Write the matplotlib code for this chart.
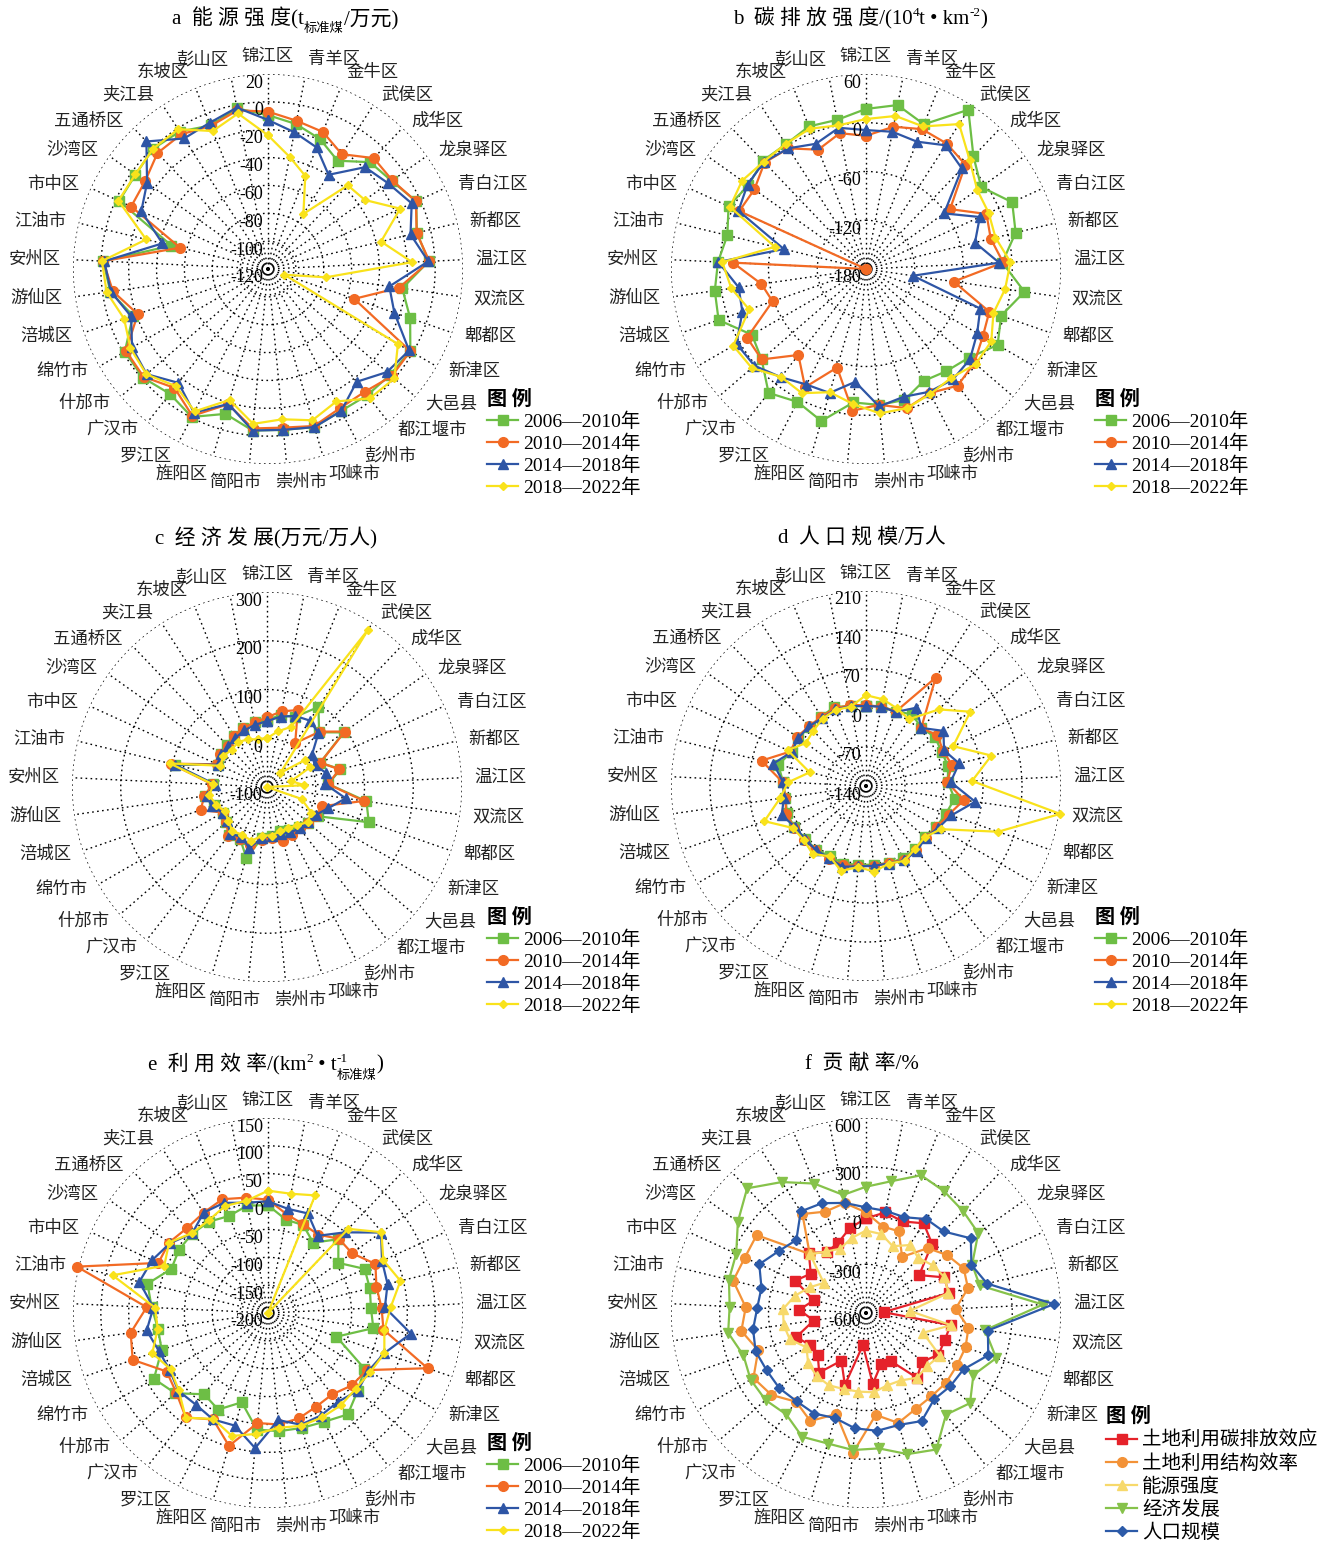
import numpy as np
import matplotlib.pyplot as plt
import matplotlib.transforms as mtransforms
from matplotlib.text import Annotation

plt.rcParams['font.family'] = ['Liberation Serif', 'Noto Sans CJK SC']
plt.rcParams['axes.unicode_minus'] = False

W, H = 1330, 1544
R = 195

counties = ['锦江区', '青羊区', '金牛区', '武侯区', '成华区', '龙泉驿区', '青白江区', '新都区',
            '温江区', '双流区', '郫都区', '新津区', '大邑县', '都江堰市', '彭州市', '邛崃市',
            '崇州市', '简阳市', '旌阳区', '罗江区', '广汉市', '什邡市', '绵竹市', '涪城区',
            '游仙区', '安州区', '江油市', '市中区', '沙湾区', '五通桥区', '夹江县', '东坡区', '彭山区']
periods = ['2006—2010年', '2010—2014年', '2014—2018年', '2018—2022年']
effects = ['土地利用碳排放效应', '土地利用结构效率', '能源强度', '经济发展', '人口规模']

# a 能源强度
energy_0610 = [-9.5, -14, -19.5, -27.6, -14, -11, -3, -10, -4.5, -22.6, -12, -2, -4, -4.7, -5.4, -1.7, -4,
               -3.5, -11.6, -0.5, -6, -1, -1.3, -17.4, -5.6, -1.6, -48.7, -2.5, -3.2, -0.6, -2.7, -9, -2.6]
energy_1014 = [-7, -11.6, -14, -22, -10, -10.4, -3.2, -10.2, -4, -25, -54.5, -2, -2.5, -7.8, -7.5, -2.5, -5.6,
               -5, -18.8, -1.4, -11.4, -1.8, -2.3, -21, -7.5, -1.6, -55, -12, -11.6, -5, -5, -9.4, -4]
energy_1418 = [-13, -20, -26, -39.6, -19, -14, -6.6, -14.7, -4.8, -32, -24, -3, -7, -17, -5.3, -1.7, -4,
               -3.5, -19, -4, -16, -4.7, -7.3, -16, -6, -2.4, -42, -20, -13.4, 6.5, -8.6, -7, -2]
energy_1822 = [-24, -38, -48, -73, -37, -34.6, -15.7, -36.5, -16.4, -78, -107.5, -12.3, 0, -1.8, -13, -6.8, -11.6,
               -8.3, -22, -5, -13, -4.5, -6, -10.7, -3, -0.6, -30, -2, -3, -0.6, -0.7, -13.3, -6.3]

# b 碳排放强度
carbon_0610 = [17, 25.5, 11.8, 53, 11.6, -6, 17.8, 9.5, -12, 17, -4, 7, -13, -20, -25, -12, -12,
               -15, 15, 4, 14, -10, -18, 12, 8, 2.4, -4.4, 6, -2.3, 4, 2.5, 9, 7]
carbon_1014 = [-16, -1.7, 5.4, 3.6, -2.7, -53, -17, -22, -11, -71, -19.4, -14, -3.6, 2.6, -8.2, -1.5, -12,
               -4.8, -53.6, -16.3, -45.4, -10, -11, -58.3, -50, -16, -180, -8.5, -11.3, 1, -3.5, -21.8, -9.8]
carbon_1418 = [-9, -8, -11.2, 1, -9, -62, -26, -42, -16, -121.6, -31.2, -22, -10.6, -7, -10, -16, -10,
               -40.5, -21, -20, -10.6, 1.7, 4, -19, -21.6, 2, -76, -7.4, -1, 2, -3.4, -14, -3]
carbon_1822 = [4.6, 11.8, 9, 32, 5, -12, -14, -16, -2, -7, -14, -2, -1.3, -9.8, -7, -1.5, -1.5,
               -13, -22, -8, -11, 6, 8.7, -27.8, -12.6, -2.9, -64.5, 4, 7.3, 2.5, 3, 6, 0]

# c 经济发展
econ_0610 = [38, 50, 55, 95, 55, 93, 20, 55, 26, 106, 121, 20, 12, 5, 0, -5, 0,
             5, 51, 20, 25, 10, 5, 15, 28, 10, 95, 10, 15, 20, 25, 30, 35]
econ_1014 = [43, 58, 70, 7, 57, 96, 20, 53, 25, 101, 20, 17, 12, 8, 10, 15, 5,
             10, 25, 20, 28, 10, 5, 44, 30, 12, 103, 12, 18, 15, 25, 30, 35]
econ_1418 = [35, 47, 57, 62, 53, 13, 8, 24, 20, 63, 33, 15, 10, 8, 5, 0, 0,
             5, 30, 15, 22, 8, 5, 20, 25, 6, 95, 10, 15, 15, 20, 25, 30]
econ_1822 = [0, 16, 33, 284, -60, -5, -3, -49, -23, -100, -25, 5, 10, 0, -5, -5, 0,
             0, 15, 10, 15, 5, 0, 10, 20, 10, 105, 5, 10, 5, 10, 5, 0]

# d 人口规模
pop_0610 = [3.6, 6, 4, 13, 4, 11.8, 9, 11.6, 7, 20.7, 11.8, 6, 1, 3, 6, 4, 2,
            2, 5, 2, 5, 5, 8.5, 10, 6, 9, 22, 7, 10, 6, 8, 13, 6]
pop_1014 = [5, 5, 4, 91, 3.6, 17.4, 12, 19, 5.7, 37.5, 17, 7, 2, 5, 9, 4, 4,
            4.5, 8, 6.6, 7, 7, 9, 11.8, 6, 10, 53, 9, 12, 8, 8, 10, 8]
pop_1418 = [3.6, 5, 3, 27, 4, 30.6, 14, 32, 12, 58, 21.8, 10, 1.4, 8, 10, 5, 4,
            5, 11, 5, 6, 5, 7, 20, 9, 9, 31, 6.8, 9, 8, 5, 8, 6]
pop_1822 = [23, 18.6, 10, 2.4, 50, 89.8, 32, 91.6, 50.6, 212, 111, 15, 0, 3, 11, 5, 14.5,
            6, 19, 2, 15, 8, 11, 53, 16, 0, -36, 14.8, -7.3, -3, 4, 7, 5]

# e 利用效率
eff_0610 = [-6.7, -29.4, -30, -50, -17, -45, -9.3, -12, -15, -9, -70, 0, 13, 31.6, 19.7, 15, 13,
            10.4, -33, -5, -14.5, 20, 36.4, 2, -0.6, 9, 22.6, -9.3, -4, -3, -5, -12.4, -3.6]
eff_1014 = [3.5, -20, -28.7, -33, -15.7, -15, 12, 0.2, 4, 9.4, 103, 5, -1.3, -14, -11, -3, 1,
            -1.6, 48.6, 15, 38.6, 18, 10, 57, 49, 18, 153, 16.4, 18, 10.7, 14, 20, 10.8]
eff_1418 = [0.5, -9.7, -7.5, -35.4, 0, 49, 25, 20.8, 10, 59, 20.8, 8, 13, 3, 7, 9, -7,
            43.6, 10.7, 15, 9.4, 13, 4, 7.4, 20, 6, 37.6, 28.5, 16, -2.8, 14, 13, 1.5]
eff_1822 = [19.6, 18, 27.4, -200, 8.7, 50, 27.6, 44.6, 20.5, 11, 21, 12, 8, 11, 11, 11, 7,
            18, 30, 14, 39, 12, 2, 19.7, 0, 3, 87, 4.6, 18, -2, -2.6, 7, 5]

# f 贡献率
contrib_carbon = [-17, 30, 7, 56, -11, -198, -72, -75, -491, -74, -88, -85, -143, -93, -267, -272, -161,
                  -402, -138, -270, -134, -207, -205, -145, -275, -188, -270, -121, -183, -90, -154, -136, -69]
contrib_struct = [19, -58, -58, -189, -49, 14, 61, 46, -48, 37, 48, 46, 53.5, 52, 65, 105, 30,
                  268, 48, 148, 95, 170, 200, 102, 175, 141, 241, 220, 226, -98, 124, 72, 89]
contrib_energy = [-93, -105, -157, -103, -132, -95, -69, -78, -331, -70, -229, -75, -101, -93, -133, -136, -110,
                  -114, -112, -100, -108, -129, -177, -104, -88, -89, -150, -219, -281, -101, -150, -174, -130]
contrib_econ = [177, 226, 313, 290, 266, 248, 118, 120, 490, 140, 248, 163, 247, 196, 345, 305, 237,
                247, 237, 257, 194, 218, 220, 198, 257, 240, 268, 278, 368, 460, 358, 258, 140]
contrib_pop = [50, 40, 35, 87, 93, 192, 113, 167, 558, 158, 196, 93, 87, 77, 148, 118, 128,
               113, 74, 96, 91, 106, 106, 119, 102, 70, 62, 122, 58, 21, 143, 128, 90]

period_styles = [dict(color='#6DBE45', marker='s', ms=6.5),
                 dict(color='#F26A24', marker='o', ms=7),
                 dict(color='#2E55A5', marker='^', ms=7),
                 dict(color='#F9E21B', marker='D', ms=4.5)]
effect_styles = [dict(color='#E5222A', marker='s', ms=6.5),
                 dict(color='#F39237', marker='o', ms=7),
                 dict(color='#F7D96B', marker='^', ms=6.5),
                 dict(color='#86C24A', marker='v', ms=6.5),
                 dict(color='#2C5AA8', marker='D', ms=5)]

fig = plt.figure(figsize=(W / 100, H / 100), dpi=100)
n = len(counties)
ang = np.arange(n) * 2 * np.pi / n


def radar(cx, cy, ticks, series, styles):
    ax = fig.add_axes([(cx - R) / W, 1 - (cy + R) / H, 2 * R / W, 2 * R / H], projection='polar')
    ax.set_theta_zero_location('N')
    ax.set_theta_direction(-1)
    rmin, rmax = ticks[0], ticks[-1]
    ax.set_ylim(rmin, rmax)
    ax.set_xticks(ang)
    ax.set_xticklabels([])
    ax.set_yticks(ticks)
    ax.set_yticklabels([])
    ax.grid(True, color='black', linestyle=(0, (1.2, 2.4)), linewidth=1.0)
    ax.spines['polar'].set_visible(False)
    ax.set_facecolor('none')
    ax.set_axisbelow(True)

    lines = []
    for vals, st in zip(series, styles):
        v = np.append(vals, vals[0])
        ln, = ax.plot(np.append(ang, ang[0]), v, lw=1.6, clip_on=False, zorder=3, **st)
        lines.append(ln)

    # radial tick values along the top spoke
    tick_tr = mtransforms.offset_copy(ax.transData, fig=fig, x=-5, y=-9, units='dots')
    for t in ticks:
        ax.text(0, t, str(t), transform=tick_tr, ha='right', va='center', fontsize=13, zorder=4)

    # county names around the rim
    rlab = rmin + (rmax - rmin) * 1.05
    fs = 12.5
    for i, name in enumerate(counties):
        s, c = np.sin(ang[i]), np.cos(ang[i])
        w = len(name) * fs * 1.1
        dx = 0.5 * w * np.clip(s * 5, -1, 1)
        dy = 0.5 * fs * np.clip((abs(c) - 0.8) * 6, 0, 1) * np.sign(c)
        tr = mtransforms.offset_copy(ax.transData, fig=fig, x=dx, y=dy, units='points')
        ax.text(ang[i], rlab, name, transform=tr, ha='center', va='center',
                fontsize=fs, color='#222222', family='Noto Sans CJK SC')
    return lines


def legend(lines, labels, x, y, spacing=0.18):
    fig.legend(lines, labels, loc='upper left', bbox_to_anchor=(x / W, 1 - y / H), frameon=False,
               title='图 例', title_fontproperties={'weight': 'bold', 'size': 14.5, 'family': 'Noto Sans CJK SC'},
               alignment='left', fontsize=14, handlelength=1.6, handletextpad=0.25,
               labelspacing=spacing, borderpad=0, borderaxespad=0)


def title(x, y, parts, fs=15):
    shifts = {'n': 0, 'sub': -4, 'sup': 7, 'sub0': -5}
    prev = fig.text(x / W, 1 - y / H, parts[0][0], fontsize=fs, ha='left', va='center')
    prev_shift = 0
    for txt, kind in parts[1:]:
        size = fs if kind == 'n' else 9.5
        xa = 0 if kind == 'sub0' else 1
        off = shifts[kind] - prev_shift
        ann = Annotation(txt, xy=(xa, 0), xycoords=prev, xytext=(0, off), textcoords='offset points',
                         ha='left', va='bottom', fontsize=size)
        fig.add_artist(ann)
        prev, prev_shift = ann, shifts[kind]


la = radar(268, 269, list(range(-120, 21, 20)), [energy_0610, energy_1014, energy_1418, energy_1822], period_styles)
lb = radar(866, 269, [-180, -120, -60, 0, 60], [carbon_0610, carbon_1014, carbon_1418, carbon_1822], period_styles)
lc = radar(267, 787, [-100, 0, 100, 200, 300], [econ_0610, econ_1014, econ_1418, econ_1822], period_styles)
ld = radar(866, 786, [-140, -70, 0, 70, 140, 210], [pop_0610, pop_1014, pop_1418, pop_1822], period_styles)
le = radar(268, 1313, list(range(-200, 151, 50)), [eff_0610, eff_1014, eff_1418, eff_1822], period_styles)
lf = radar(866, 1313, [-600, -300, 0, 300, 600],
           [contrib_carbon, contrib_struct, contrib_energy, contrib_econ, contrib_pop], effect_styles)

legend(la, periods, 487, 388)
legend(lb, periods, 1095, 388)
legend(lc, periods, 487, 906)
legend(ld, periods, 1095, 906)
legend(le, periods, 487, 1432)
legend(lf, effects, 1106, 1405, spacing=0.24)

title(172, 18, [('a  能 源 强 度(t', 'n'), ('标准煤', 'sub'), ('/万元)', 'n')])
title(733, 18, [('b  碳 排 放 强 度/(10', 'n'), ('4', 'sup'), ('t • km', 'n'), ('-2', 'sup'), (')', 'n')])
title(155, 538, [('c  经 济 发 展(万元/万人)', 'n')])
title(778, 538, [('d  人 口 规 模/万人', 'n')])
title(148, 1064, [('e  利 用 效 率/(km', 'n'), ('2', 'sup'), (' • t', 'n'), ('-1', 'sup'), ('标准煤', 'sub0'), (')', 'n')])
title(805, 1064, [('f  贡 献 率/%', 'n')])

fig.savefig('out.png', dpi=100)
